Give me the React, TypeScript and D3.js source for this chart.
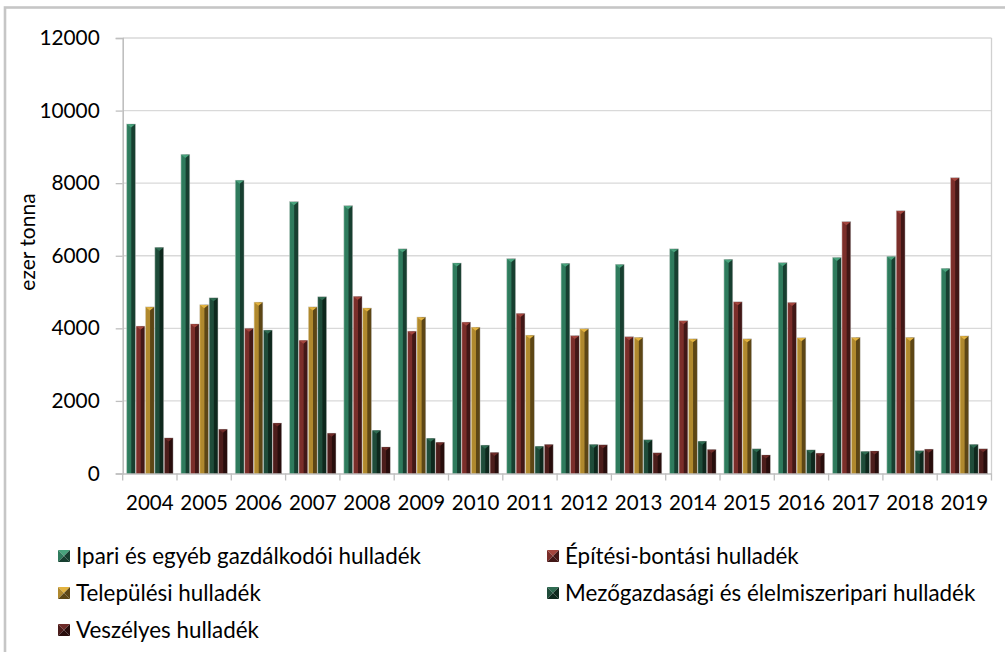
import React, { useEffect, useRef } from 'react';
import * as d3 from 'd3';

// years on the category axis
const years = ['2004', '2005', '2006', '2007', '2008', '2009', '2010', '2011', '2012', '2013', '2014', '2015', '2016', '2017', '2018', '2019'];

// ezer tonna
const ipari = [9630, 8790, 8080, 7490, 7380, 6190, 5800, 5920, 5790, 5760, 6190, 5900, 5810, 5950, 5980, 5650];
const epitesi = [4060, 4120, 4000, 3670, 4880, 3920, 4170, 4410, 3800, 3770, 4210, 4730, 4710, 6940, 7240, 8150];
const telepulesi = [4590, 4650, 4720, 4590, 4560, 4310, 4030, 3810, 3990, 3750, 3710, 3710, 3740, 3750, 3750, 3790];
const mezogazdasagi = [6230, 4840, 3950, 4870, 1190, 970, 780, 750, 800, 930, 890, 680, 650, 610, 630, 800];
const veszelyes = [980, 1220, 1390, 1110, 730, 860, 580, 800, 790, 570, 660, 510, 560, 620, 670, 680];

const seriesNames = [
  'Ipari és egyéb gazdálkodói hulladék',
  'Építési-bontási hulladék',
  'Települési hulladék',
  'Mezőgazdasági és élelmiszeripari hulladék',
  'Veszélyes hulladék',
];
const seriesValues = [ipari, epitesi, telepulesi, mezogazdasagi, veszelyes];

const yTicks = [0, 2000, 4000, 6000, 8000, 10000, 12000];

// light face, dark face, top bevel
const palette = [
  { light: '#2f7b5d', dark: '#173f30', top: '#48a27c' },
  { light: '#7b2e2a', dark: '#421716', top: '#a3453d' },
  { light: '#b0892e', dark: '#5d4615', top: '#e2b23f' },
  { light: '#1f4c3a', dark: '#0e281d', top: '#2f6c52' },
  { light: '#4c1d1b', dark: '#280d0c', top: '#6e2b28' },
];

const W = 1005;
const H = 652;
const FONT = 'Lato, "Open Sans", sans-serif';

export default function App() {
  const svgRef = useRef<SVGSVGElement>(null);

  useEffect(() => {
    if (!svgRef.current) return;
    const svg = d3.select(svgRef.current);
    svg.selectAll('*').remove();

    const plot = { left: 122.7, right: 991.5, top: 38, bottom: 473.5 };

    const x0 = d3.scaleBand<string>()
      .domain(years)
      .range([plot.left, plot.right])
      .paddingInner(0.134)
      .paddingOuter(0.067);

    const x1 = d3.scaleBand<number>()
      .domain(d3.range(seriesNames.length))
      .range([0, x0.bandwidth()]);

    const y = d3.scaleLinear().domain([0, 12000]).range([plot.bottom, plot.top]);

    // gradients
    const defs = svg.append('defs');
    palette.forEach((c, i) => {
      const g = defs.append('linearGradient')
        .attr('id', `bar-${i}`)
        .attr('x1', '0').attr('x2', '1').attr('y1', '0').attr('y2', '0');
      g.append('stop').attr('offset', '0').attr('stop-color', c.top);
      g.append('stop').attr('offset', '0.12').attr('stop-color', c.light);
      g.append('stop').attr('offset', '0.48').attr('stop-color', c.light);
      g.append('stop').attr('offset', '0.58').attr('stop-color', c.dark);
      g.append('stop').attr('offset', '1').attr('stop-color', c.dark);
    });

    // outer chart border
    svg.append('rect')
      .attr('x', 5).attr('y', 7.5)
      .attr('width', W + 20).attr('height', H + 20)
      .attr('fill', 'white')
      .attr('stroke', '#c6c6c6')
      .attr('stroke-width', 2.6);

    // gridlines
    svg.append('g')
      .selectAll('line')
      .data(yTicks.filter(t => t > 0))
      .enter()
      .append('line')
      .attr('x1', plot.left).attr('x2', plot.right)
      .attr('y1', d => y(d)).attr('y2', d => y(d))
      .attr('stroke', '#d9d9d9')
      .attr('stroke-width', 1.3);

    // right border of plot area
    svg.append('line')
      .attr('x1', plot.right).attr('x2', plot.right)
      .attr('y1', plot.top).attr('y2', plot.bottom)
      .attr('stroke', '#d0d0d0')
      .attr('stroke-width', 1.3);

    // y axis
    const yAxis = svg.append('g')
      .attr('transform', `translate(${plot.left},0)`)
      .call(d3.axisLeft(y).tickValues(yTicks).tickSize(7).tickPadding(16).tickFormat(d3.format('d')));
    yAxis.select('.domain').attr('stroke', '#bfbfbf').attr('stroke-width', 1.6);
    yAxis.selectAll('.tick line').attr('stroke', '#bfbfbf').attr('stroke-width', 1.3);
    yAxis.selectAll('.tick text')
      .attr('fill', '#000')
      .style('font-family', FONT)
      .style('font-size', '20.8px');

    // x axis
    const xAxis = svg.append('g')
      .attr('transform', `translate(0,${plot.bottom})`)
      .call(d3.axisBottom(x0).tickSize(0).tickPadding(22));
    xAxis.select('.domain').attr('stroke', '#bfbfbf').attr('stroke-width', 1.6);
    xAxis.selectAll('.tick text')
      .attr('fill', '#000')
      .style('font-family', FONT)
      .style('font-size', '20.5px');
    const step = x0.step();
    xAxis.append('g')
      .selectAll('line')
      .data(d3.range(years.length + 1))
      .enter()
      .append('line')
      .attr('x1', i => plot.left + i * step)
      .attr('x2', i => plot.left + i * step)
      .attr('y1', 0).attr('y2', 7)
      .attr('stroke', '#bfbfbf')
      .attr('stroke-width', 1.3);

    // bars
    const groups = svg.append('g')
      .selectAll('g')
      .data(years)
      .enter()
      .append('g')
      .attr('transform', d => `translate(${x0(d)},0)`);

    groups.each(function (year, yi) {
      const g = d3.select(this);
      seriesValues.forEach((vals, si) => {
        const bx = x1(si)!;
        const bw = x1.bandwidth();
        const top = y(vals[yi]);
        g.append('rect')
          .attr('x', bx + 0.3)
          .attr('y', top)
          .attr('width', bw - 0.6)
          .attr('height', plot.bottom - top)
          .attr('fill', `url(#bar-${si})`)
          .attr('stroke', 'rgba(190,190,190,0.7)')
          .attr('stroke-width', 0.6);
        g.append('path')
          .attr('d', `M${bx + 0.6},${top + 0.3} L${bx + bw - 0.6},${top + 0.3} L${bx + bw / 2},${top + 3.5} Z`)
          .attr('fill', palette[si].top);
      });
    });

    // legend
    const legendItems = [
      { i: 0, x: 58, y: 556 },
      { i: 1, x: 547, y: 556 },
      { i: 2, x: 58, y: 593 },
      { i: 3, x: 547, y: 593 },
      { i: 4, x: 58, y: 630 },
    ];
    const s = 12;
    const legend = svg.append('g')
      .selectAll('g')
      .data(legendItems)
      .enter()
      .append('g')
      .attr('transform', d => `translate(${d.x},${d.y})`);
    legend.each(function (d) {
      const g = d3.select(this);
      const c = palette[d.i];
      const h = s / 2;
      g.append('path').attr('d', `M0,${-h} L${s},${-h} L${h},0 Z`).attr('fill', c.top);
      g.append('path').attr('d', `M0,${-h} L${h},0 L0,${h} Z`).attr('fill', c.light);
      g.append('path').attr('d', `M${s},${-h} L${s},${h} L${h},0 Z`).attr('fill', c.dark);
      g.append('path').attr('d', `M0,${h} L${s},${h} L${h},0 Z`).attr('fill', c.dark);
      g.append('text')
        .attr('x', 18)
        .attr('y', 0)
        .attr('dy', '0.35em')
        .style('font-family', FONT)
        .style('font-size', '22.4px')
        .attr('fill', '#000')
        .text(seriesNames[d.i]);
    });

    // y axis title
    svg.append('text')
      .attr('transform', `translate(28,242) rotate(-90)`)
      .attr('text-anchor', 'middle')
      .attr('dy', '0.35em')
      .style('font-family', FONT)
      .style('font-size', '21px')
      .attr('fill', '#000')
      .text('ezer tonna');
  }, []);

  return (
    <div style={{ position: 'fixed', left: 0, top: 0, width: W, height: H, overflow: 'hidden', background: 'white' }}>
      <svg ref={svgRef} width={W} height={H} style={{ display: 'block' }} />
    </div>
  );
}
